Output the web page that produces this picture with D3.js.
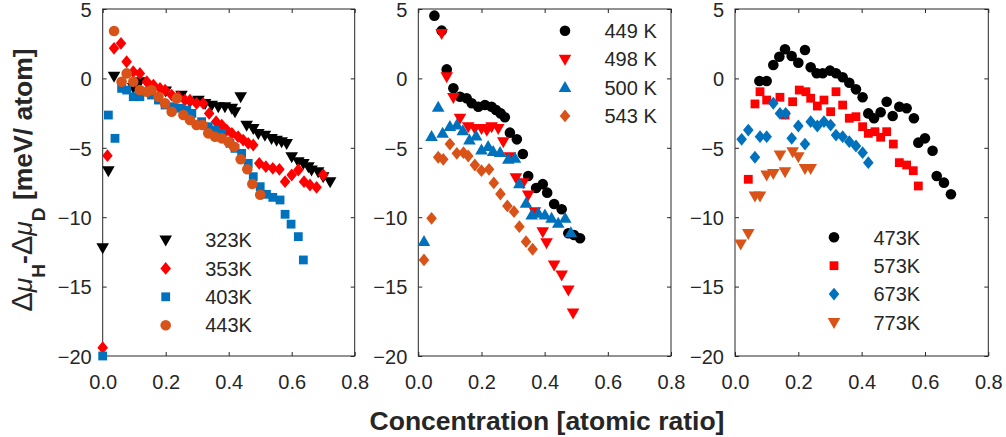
<!DOCTYPE html>
<html lang="en">
<head>
<meta charset="utf-8">
<title>Chemical potential difference</title>
<script src="https://cdn.jsdelivr.net/npm/d3@7"></script>
<style>
body { margin: 0; background: #fff; }
text { font-family: "Liberation Sans", Arial, Helvetica, sans-serif; fill: #262626; }
</style>
</head>
<body>
<script>
// ---- data: [concentration, delta mu (meV/atom)] ----
var t323 = [[0.0,-12.2],[0.018,-6.65],[0.036,0.17],[0.097,-0.64],[0.118,-0.24],[0.15,-0.6],[0.2,-0.9],
  [0.25,-1.2],[0.277,-1.68],[0.304,-1.56],[0.325,-1.8],[0.346,-1.92],[0.367,-2.04],[0.388,-2.04],
  [0.41,-2.15],[0.42,-2.4],[0.438,-1.32],[0.457,-3.36],[0.478,-3.6],[0.494,-3.96],[0.515,-4.08],
  [0.536,-4.32],[0.552,-4.44],[0.568,-4.56],[0.584,-4.68],[0.6,-5.64],[0.621,-6.0],[0.637,-6.12],
  [0.653,-6.36],[0.663,-6.6],[0.684,-6.72],[0.7,-7.08],[0.722,-7.44]];
var t353 = [[0.0,-19.4],[0.015,-5.57],[0.036,2.17],[0.058,2.53],[0.076,1.2],[0.097,0.48],[0.118,0.36],
  [0.14,-0.24],[0.161,-0.48],[0.182,-0.72],[0.198,-0.84],[0.219,-1.2],[0.24,-1.32],[0.261,-1.56],
  [0.277,-1.56],[0.298,-1.8],[0.319,-1.8],[0.338,-2.52],[0.36,-3.12],[0.378,-3.36],[0.394,-3.72],
  [0.41,-3.96],[0.43,-4.2],[0.446,-4.44],[0.462,-4.68],[0.478,-4.8],[0.497,-6.12],[0.518,-6.36],
  [0.54,-6.48],[0.561,-6.55],[0.579,-7.44],[0.6,-6.96],[0.621,-6.6],[0.639,-7.44],[0.658,-7.68],
  [0.679,-7.85],[0.7,-6.96]];
var t403 = [[0.0,-20.0],[0.018,-2.64],[0.039,-4.32],[0.06,-0.72],[0.076,-0.84],[0.097,-1.32],[0.118,-1.32],
  [0.155,-1.2],[0.177,-1.56],[0.198,-1.92],[0.224,-2.04],[0.245,-2.15],[0.267,-2.28],[0.283,-2.52],
  [0.314,-3.12],[0.335,-3.48],[0.357,-3.72],[0.378,-3.96],[0.404,-4.68],[0.42,-5.04],[0.441,-5.4],
  [0.462,-6.12],[0.478,-7.08],[0.5,-7.8],[0.52,-8.35],[0.54,-8.57],[0.563,-8.76],[0.579,-9.79],
  [0.598,-10.5],[0.621,-11.4],[0.637,-13.08]];
var t443 = [[0.036,3.41],[0.06,-0.24],[0.076,0.36],[0.097,-0.24],[0.118,-0.84],[0.14,-0.96],[0.155,-0.84],
  [0.177,-1.32],[0.198,-1.8],[0.219,-2.4],[0.235,-1.44],[0.256,-2.64],[0.277,-3.0],[0.298,-3.36],
  [0.317,-3.36],[0.335,-3.96],[0.357,-4.2],[0.378,-4.32],[0.399,-4.56],[0.417,-4.92],[0.438,-5.83],
  [0.459,-6.55],[0.475,-7.61],[0.5,-8.38]];

var t449 = [[0.051,4.52],[0.074,3.44],[0.09,0.65],[0.111,-0.71],[0.132,-1.32],[0.153,-1.43],[0.169,-1.79],
  [0.19,-2.04],[0.211,-1.92],[0.232,-2.04],[0.246,-2.28],[0.261,-2.52],[0.274,-2.8],[0.29,-3.91],
  [0.312,-4.39],[0.331,-5.45],[0.348,-7.03],[0.373,-7.9],[0.394,-7.62],[0.408,-8.23],[0.43,-9.05],
  [0.454,-9.43],[0.475,-11.16],[0.493,-11.28],[0.512,-11.52]];
var t498 = [[0.074,3.25],[0.09,0.12],[0.111,-1.36],[0.132,-2.87],[0.158,-3.48],[0.179,-3.6],[0.2,-3.6],
  [0.217,-3.72],[0.232,-3.48],[0.253,-3.6],[0.269,-4.56],[0.29,-5.64],[0.309,-7.15],[0.332,-7.51],
  [0.348,-8.4],[0.369,-9.6],[0.394,-11.04],[0.406,-11.84],[0.43,-13.44],[0.454,-14.16],[0.475,-15.24],
  [0.49,-16.9]];
var t500 = [[0.018,-11.76],[0.042,-4.2],[0.063,-2.08],[0.077,-3.96],[0.1,-3.48],[0.122,-3.36],[0.141,-3.77],
  [0.162,-4.44],[0.183,-4.15],[0.2,-5.16],[0.221,-4.92],[0.237,-5.28],[0.259,-5.35],[0.285,-5.83],
  [0.306,-5.76],[0.32,-7.6],[0.341,-9.0],[0.359,-9.84],[0.38,-9.72],[0.401,-9.84],[0.422,-10.08],
  [0.443,-10.44],[0.465,-10.08],[0.483,-11.12]];
var t543 = [[0.018,-13.08],[0.042,-10.08],[0.063,-5.68],[0.079,-5.83],[0.1,-4.73],[0.122,-5.4],[0.143,-5.35],
  [0.158,-5.59],[0.179,-6.24],[0.2,-6.65],[0.224,-6.55],[0.239,-7.53],[0.26,-8.33],[0.282,-9.19],
  [0.303,-9.6],[0.32,-10.68],[0.341,-11.76],[0.362,-12.31]];

var t473 = [[0.077,-0.19],[0.1,-0.19],[0.121,0.97],[0.14,1.56],[0.158,2.1],[0.179,1.61],[0.2,1.13],
  [0.221,2.05],[0.239,0.8],[0.258,0.37],[0.277,0.37],[0.3,0.56],[0.319,0.37],[0.34,0.08],[0.361,-0.31],
  [0.382,-0.79],[0.403,-1.36],[0.421,-2.52],[0.439,-2.87],[0.46,-2.44],[0.479,-1.68],[0.498,-2.71],
  [0.519,-2.04],[0.542,-2.15],[0.565,-2.87],[0.579,-4.63],[0.6,-4.32],[0.624,-5.21],[0.637,-7.03],
  [0.66,-7.51],[0.682,-8.35]];
var t573 = [[0.042,-7.27],[0.063,-1.84],[0.079,-0.96],[0.1,-1.56],[0.142,-1.36],[0.158,-2.64],[0.182,-1.68],
  [0.203,-0.84],[0.224,-0.96],[0.239,-1.43],[0.26,-1.99],[0.281,-1.56],[0.302,-2.4],[0.319,-0.96],
  [0.34,-1.92],[0.361,-2.87],[0.382,-2.76],[0.403,-3.48],[0.421,-3.96],[0.442,-3.84],[0.46,-4.24],
  [0.479,-3.84],[0.5,-4.73],[0.519,-6.07],[0.542,-6.24],[0.563,-6.65],[0.579,-7.75]];
var t673 = [[0.021,-4.39],[0.042,-3.72],[0.063,-5.68],[0.079,-4.2],[0.1,-4.2],[0.121,-1.79],[0.142,-2.52],
  [0.16,-2.52],[0.179,-4.32],[0.2,-3.43],[0.221,-4.73],[0.239,-3.12],[0.26,-3.43],[0.281,-3.12],
  [0.302,-3.36],[0.319,-4.08],[0.34,-4.2],[0.361,-4.56],[0.382,-4.87],[0.403,-5.35],[0.421,-6.07]];
var t773 = [[0.018,-11.93],[0.042,-11.16],[0.063,-8.47],[0.079,-8.47],[0.1,-6.96],[0.121,-6.84],
  [0.142,-5.52],[0.158,-6.72],[0.182,-5.28],[0.2,-5.64],[0.221,-6.48],[0.239,-6.48]];

var xTicks = [0, 0.2, 0.4, 0.6, 0.8];
var yTicks = [5, 0, -5, -10, -15, -20];
var xTitle = "Concentration [atomic ratio]";

var black = "#000000", red = "#FF0000", blue = "#0072BD", orange = "#D95319";

var panels = [
  { x0: 102.7, x1: 354.7, legX: 165.7, legY: 240,
    series: [
      { label: "323K", shape: "tdown", color: black, data: t323 },
      { label: "353K", shape: "diamond", color: red, data: t353 },
      { label: "403K", shape: "square", color: blue, data: t403 },
      { label: "443K", shape: "circle", color: orange, data: t443 } ] },
  { x0: 418.3, x1: 671, legX: 565, legY: 30.7,
    series: [
      { label: "449 K", shape: "circle", color: black, data: t449 },
      { label: "498 K", shape: "tdown", color: red, data: t498 },
      { label: "500 K", shape: "tup", color: blue, data: t500 },
      { label: "543 K", shape: "diamond", color: orange, data: t543 } ] },
  { x0: 735, x1: 988.3, legX: 834, legY: 237.3,
    series: [
      { label: "473K", shape: "circle", color: black, data: t473 },
      { label: "573K", shape: "square", color: red, data: t573 },
      { label: "673K", shape: "diamond", color: blue, data: t673 },
      { label: "773K", shape: "tdown", color: orange, data: t773 } ] }
];

var w = 1006, h = 437;
var plotTop = 9, plotBottom = 356;

function shapePath(s) {
  if (s === "circle") return "M5.3,0A5.3,5.3 0 1,1 -5.3,0A5.3,5.3 0 1,1 5.3,0Z";
  if (s === "square") return "M-4.4,-4.4H4.4V4.4H-4.4Z";
  if (s === "diamond") return "M0,-6.4L5.3,0L0,6.4L-5.3,0Z";
  if (s === "tup") return "M0,-6.6L6.3,4.4L-6.3,4.4Z";
  return "M0,6.6L6.3,-4.4L-6.3,-4.4Z";
}

var svg = d3.select("body").append("svg").attr("width", w).attr("height", h);

var yScale = d3.scaleLinear().domain([-20, 5]).range([plotBottom, plotTop]);

panels.forEach(function(p) {
  var xScale = d3.scaleLinear().domain([0, 0.8]).range([p.x0, p.x1]);
  var g = svg.append("g");

  // inward ticks on all four sides
  var axes = [
    { a: d3.axisBottom(xScale).tickValues(xTicks).tickFormat(d3.format(".1f")), t: "translate(0," + plotBottom + ")" },
    { a: d3.axisTop(xScale).tickValues(xTicks).tickFormat(""), t: "translate(0," + plotTop + ")" },
    { a: d3.axisLeft(yScale).tickValues(yTicks).tickFormat(d3.format("d")), t: "translate(" + p.x0 + ",0)" },
    { a: d3.axisRight(yScale).tickValues(yTicks).tickFormat(""), t: "translate(" + p.x1 + ",0)" }
  ];
  axes.forEach(function(ax, i) {
    var ag = g.append("g").attr("transform", ax.t)
      .call(ax.a.tickSizeInner(-4).tickSizeOuter(0));
    ag.select(".domain").remove();
    ag.selectAll("line").attr("stroke", "#262626");
    var tx = ag.selectAll("text").attr("font-size", 20).attr("font-family", null).attr("fill", "#262626");
    if (i === 0) tx.attr("y", 33.3).attr("dy", 0);
    if (i === 2) tx.attr("x", -11).attr("dy", "0.36em");
  });

  g.append("rect").attr("x", p.x0).attr("y", plotTop)
    .attr("width", p.x1 - p.x0).attr("height", plotBottom - plotTop)
    .attr("fill", "none").attr("stroke", "#262626").attr("stroke-width", 1);

  p.series.forEach(function(s) {
    g.append("g").selectAll("path").data(s.data).enter().append("path")
      .attr("d", shapePath(s.shape))
      .attr("transform", function(d) { return "translate(" + xScale(d[0]) + "," + yScale(d[1]) + ")"; })
      .attr("fill", s.color);
  });

  var leg = g.append("g");
  p.series.forEach(function(s, i) {
    var ly = p.legY + i * 28.4;
    leg.append("path").attr("d", shapePath(s.shape))
      .attr("transform", "translate(" + p.legX + "," + ly + ")").attr("fill", s.color);
    leg.append("text").attr("x", p.legX + 39.5).attr("y", ly).attr("dy", "0.36em")
      .attr("font-size", 20).text(s.label);
  });
});

svg.append("text").attr("x", 547).attr("y", 430).attr("text-anchor", "middle")
  .attr("font-size", 26.5).attr("font-weight", "bold").text(xTitle);

var yt = svg.append("text").attr("transform", "translate(32,180) rotate(-90)")
  .attr("text-anchor", "middle").attr("font-size", 26.5);
yt.append("tspan").attr("font-size", 29).text("\u0394");
yt.append("tspan").attr("font-style", "italic").text("\u03bc");
yt.append("tspan").attr("font-weight", "bold").attr("font-size", 19).attr("dy", 13).text("H");
yt.append("tspan").attr("font-weight", "bold").attr("dy", -13).text("-");
yt.append("tspan").attr("font-size", 29).text("\u0394");
yt.append("tspan").attr("font-style", "italic").text("\u03bc");
yt.append("tspan").attr("font-weight", "bold").attr("font-size", 19).attr("dy", 13).text("D");
yt.append("tspan").attr("font-weight", "bold").attr("dy", -13).text(" [meV/ atom]");
</script>
</body>
</html>
